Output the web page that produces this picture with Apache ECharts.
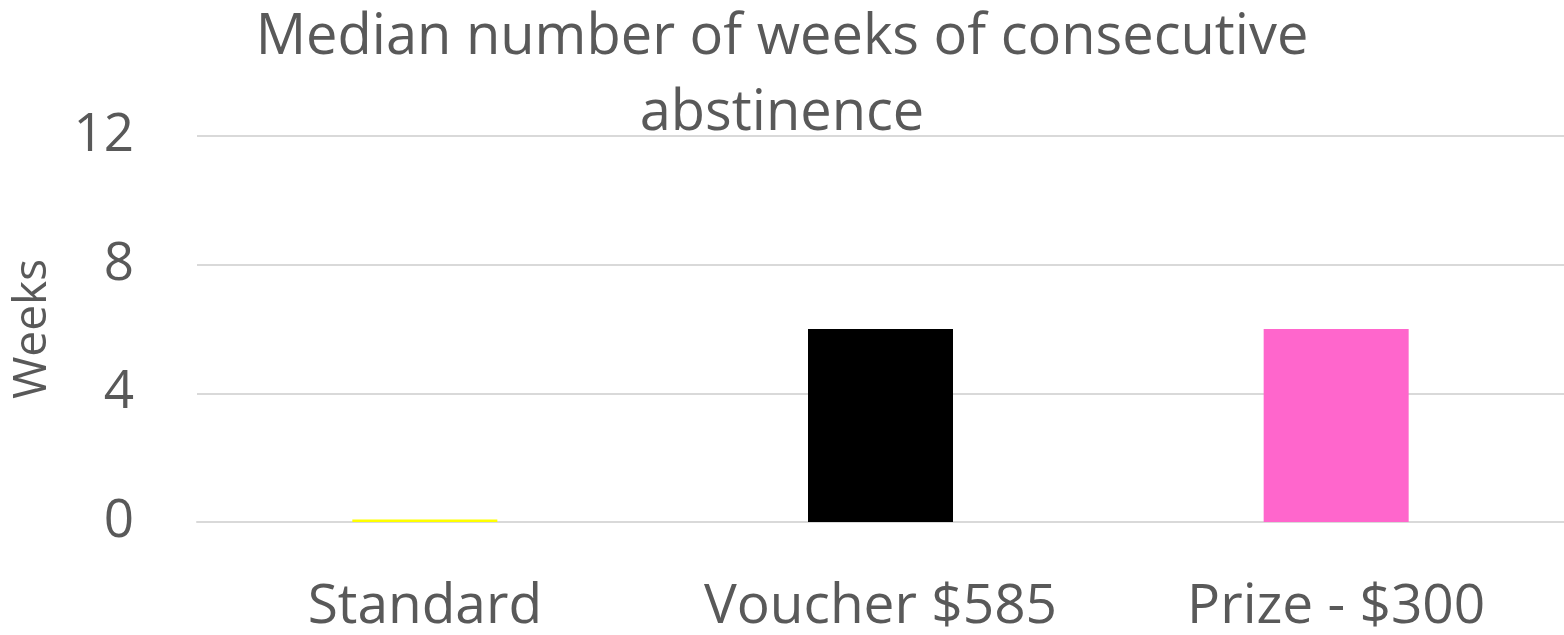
<!DOCTYPE html>
<html>
<head>
<meta charset="utf-8">
<script src="https://cdn.jsdelivr.net/npm/echarts@6/dist/echarts.min.js"></script>
<style>
html,body{margin:0;padding:0;background:#fff;overflow:hidden;}
#chart{width:1564px;height:635px;}
</style>
</head>
<body>
<div id="chart"></div>
<script>
const titleText = 'Median number of weeks of consecutive\nabstinence';
const categories = ['Standard', 'Voucher $585', 'Prize - $300'];
const weeks = [0.08, 6, 6];
const barColors = ['#ffff00', '#000000', '#ff66cc'];
const yTicks = [0, 4, 8, 12];

const FONT = 'Open Sans';
const chart = echarts.init(document.getElementById('chart'), null, {renderer: 'canvas'});
chart.setOption({
  animation: false,
  backgroundColor: '#ffffff',
  title: {
    text: titleText,
    left: 777,
    top: -5,
    textAlign: 'center',
    textStyle: {fontFamily: FONT, fontSize: 56, fontWeight: 'normal', color: '#595959', lineHeight: 76}
  },
  grid: {left: 197, right: 0, top: 136, bottom: 112, containLabel: false},
  xAxis: {
    type: 'category',
    data: categories,
    axisLine: {show: true, lineStyle: {color: '#d9d9d9', width: 2}},
    axisTick: {show: false},
    axisLabel: {interval: 0, hideOverlap: false, fontFamily: FONT, fontSize: 55, color: '#595959', margin: 58}
  },
  yAxis: {
    type: 'value',
    min: yTicks[0],
    max: yTicks[yTicks.length - 1],
    interval: 4,
    name: 'Weeks',
    nameLocation: 'middle',
    nameGap: 141,
    nameTextStyle: {fontFamily: FONT, fontSize: 46, color: '#595959'},
    axisLine: {show: false},
    axisTick: {show: false},
    splitLine: {lineStyle: {color: '#d9d9d9', width: 2}},
    axisLabel: {fontFamily: FONT, fontSize: 53, color: '#595959', margin: 63}
  },
  series: [{
    type: 'bar',
    barWidth: 145,
    data: weeks.map((v, i) => ({value: v, itemStyle: {color: barColors[i]}}))
  }]
});
</script>
</body>
</html>
